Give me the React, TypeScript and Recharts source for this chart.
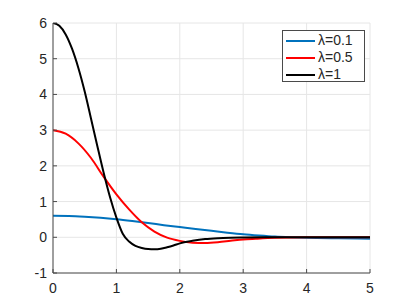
import React from 'react';
import { LineChart, Line, XAxis, YAxis, CartesianGrid, Legend } from 'recharts';

const xTicks = [0, 1, 2, 3, 4, 5];
const yTicks = [-1, 0, 1, 2, 3, 4, 5, 6];

const seriesNames = ['λ=0.1', 'λ=0.5', 'λ=1'];
const seriesColors = ['#0072BD', '#FF0000', '#000000'];

const tBlue = [0, 0.25, 0.5, 0.75, 1.0, 1.25, 1.5, 1.75, 2.0, 2.25, 2.5, 2.75, 3.0, 3.25, 3.5, 3.75, 4.0, 4.5, 5.0];
const yBlue = [0.6, 0.595, 0.575, 0.545, 0.505, 0.455, 0.4, 0.34, 0.285, 0.23, 0.18, 0.13, 0.085, 0.05, 0.02, 0.0, -0.015, -0.03, -0.04];

const tRed = [0, 0.2, 0.4, 0.6, 0.8, 1.0, 1.2, 1.4, 1.6, 1.8, 2.0, 2.2, 2.4, 2.6, 2.8, 3.0, 3.2, 3.5, 4.0, 4.5, 5.0];
const yRed = [3, 2.9, 2.63, 2.22, 1.69, 1.2, 0.78, 0.42, 0.16, -0.01, -0.1, -0.15, -0.16, -0.14, -0.1, -0.06, -0.04, -0.015, 0, 0, 0];

const tBlack = [0, 0.1, 0.2, 0.3, 0.4, 0.5, 0.6, 0.7, 0.8, 0.9, 1.0, 1.1, 1.2, 1.3, 1.4, 1.5, 1.6, 1.7, 1.8, 1.9, 2.0, 2.2, 2.4, 2.6, 2.8, 3.0, 3.5, 4.0, 4.5, 5.0];
const yBlack = [6, 5.92, 5.68, 5.28, 4.74, 4.08, 3.32, 2.55, 1.8, 1.12, 0.55, 0.1, -0.12, -0.24, -0.3, -0.33, -0.335, -0.32, -0.28, -0.23, -0.17, -0.1, -0.05, -0.025, -0.012, -0.005, 0, 0, 0, 0];

const zip = (ts: number[], ys: number[]) => ts.map((t, i) => ({ x: t, y: ys[i] }));

const seriesData = [zip(tBlue, yBlue), zip(tRed, yRed), zip(tBlack, yBlack)];

const FONT = '"Liberation Sans", Arial, Helvetica, sans-serif';
const AXIS = '#4a4a4a';
const TEXT = '#262626';

const LegendBox = () => (
  <div
    style={{
      position: 'absolute',
      left: 282,
      top: 30,
      width: 83,
      height: 52,
      border: `1px solid ${AXIS}`,
      background: '#fff',
      fontFamily: FONT,
      fontSize: 14,
      color: TEXT,
      boxSizing: 'border-box',
      paddingTop: 1,
    }}
  >
    {seriesNames.map((n, i) => (
      <div key={n} style={{ display: 'flex', alignItems: 'center', height: 17 }}>
        <div style={{ marginLeft: 3, width: 29, height: 2, background: seriesColors[i] }} />
        <span style={{ marginLeft: 3, lineHeight: '17px' }}>{n}</span>
      </div>
    ))}
  </div>
);

export default function App() {
  return (
    <div style={{ position: 'absolute', left: 0, top: 0, width: 409, height: 307, background: '#fff' }}>
      <LineChart
        width={409}
        height={307}
        margin={{ top: 23, right: 39, bottom: 14, left: 13 }}
        style={{ fontFamily: FONT }}
      >
        <CartesianGrid stroke="#e6e6e6" strokeWidth={1} />
        <XAxis
          xAxisId={0}
          type="number"
          dataKey="x"
          domain={[0, 5]}
          ticks={xTicks}
          allowDataOverflow
          height={20}
          stroke={AXIS}
          tickSize={-4}
          tickMargin={14}
          tick={{ fill: TEXT, fontSize: 14 }}
        />
        <XAxis
          xAxisId="top"
          orientation="top"
          type="number"
          domain={[0, 5]}
          ticks={xTicks}
          allowDataOverflow
          height={0}
          stroke={AXIS}
          tickSize={-4}
          tick={false}
        />
        <YAxis
          yAxisId={0}
          type="number"
          domain={[-1, 6]}
          ticks={yTicks}
          allowDataOverflow
          width={40}
          stroke={AXIS}
          tickSize={-4}
          tickMargin={10}
          tick={{ fill: TEXT, fontSize: 14 }}
        />
        <YAxis
          yAxisId="right"
          orientation="right"
          type="number"
          domain={[-1, 6]}
          ticks={yTicks}
          allowDataOverflow
          width={0}
          stroke={AXIS}
          tickSize={-4}
          tick={false}
        />
        {seriesData.map((d, i) => (
          <Line
            key={seriesNames[i]}
            xAxisId={0}
            yAxisId={0}
            data={d}
            dataKey="y"
            name={seriesNames[i]}
            type="monotone"
            stroke={seriesColors[i]}
            strokeWidth={2}
            dot={false}
            isAnimationActive={false}
          />
        ))}
        <Legend content={() => <LegendBox />} wrapperStyle={{ position: 'absolute', left: 0, top: 0, width: 0, height: 0 }} />
      </LineChart>
    </div>
  );
}
